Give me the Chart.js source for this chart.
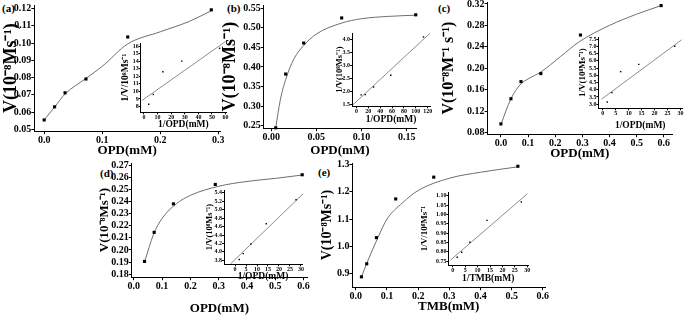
<!DOCTYPE html>
<html>
<head>
<meta charset="utf-8">
<script src="https://cdn.jsdelivr.net/npm/chart.js@4"></script>
<style>
  body { margin: 0; background: #fff; width: 685px; height: 322px; position: relative; overflow: hidden; }
  canvas { position: absolute; }
  .tag { position: absolute; font: bold 11px "Liberation Serif", serif; color: #000; }
</style>
</head>
<body>
<div class="tag" style="left:2px;top:2px">(a)</div>
<div class="tag" style="left:227px;top:2px">(b)</div>
<div class="tag" style="left:438px;top:2px">(c)</div>
<div class="tag" style="left:100px;top:167px">(d)</div>
<div class="tag" style="left:318px;top:166px">(e)</div>

<canvas id="a"></canvas><canvas id="aIn"></canvas>
<canvas id="b"></canvas><canvas id="bIn"></canvas>
<canvas id="c"></canvas><canvas id="cIn"></canvas>
<canvas id="d"></canvas><canvas id="dIn"></canvas>
<canvas id="e"></canvas><canvas id="eIn"></canvas>

<script>
// (a) OPD
const aConc = [0.0, 0.018, 0.036, 0.072, 0.144, 0.288];
const aRate = [0.0555, 0.0631, 0.0712, 0.0792, 0.1035, 0.1192];
const aFitX = [0, 0.018, 0.036, 0.072, 0.1, 0.144, 0.2, 0.25, 0.29];
const aFitY = [0.0555, 0.063, 0.0705, 0.0795, 0.0865, 0.0995, 0.1065, 0.1125, 0.119];
const aInvS = [3.5, 6.9, 13.9, 27.8, 55.6];
const aInvV = [8.3, 9.6, 12.6, 14.0, 15.7];
const aLineX = [-1.5, 60];
const aLineY = [8.8, 16.6];
const aXTicks = ['0.0', '0.1', '0.2', '0.3'];
const aYTicks = ['0.05', '0.06', '0.07', '0.08', '0.09', '0.10', '0.11', '0.12'];
const aInXTicks = ['0', '10', '20', '30', '40', '50', '60'];
const aInYTicks = ['8', '9', '10', '11', '12', '13', '14', '15', '16'];

// (b) OPD
const bConc = [0.005, 0.016, 0.036, 0.078, 0.16];
const bRate = [0.245, 0.382, 0.461, 0.525, 0.533];
const bFitX = [0.005, 0.01, 0.016, 0.025, 0.036, 0.05, 0.078, 0.1, 0.13, 0.16];
const bFitY = [0.245, 0.315, 0.368, 0.42, 0.455, 0.484, 0.512, 0.523, 0.529, 0.532];
const bInvS = [8, 15, 29, 58, 113];
const bInvV = [1.87, 1.88, 2.17, 2.62, 4.08];
const bLineX = [-5.5, 124];
const bLineY = [1.5, 4.22];
const bXTicks = ['0.00', '0.05', '0.10', '0.15'];
const bYTicks = ['0.25', '0.30', '0.35', '0.40', '0.45', '0.50', '0.55'];
const bInXTicks = ['0', '20', '40', '60', '80', '100', '120'];
const bInYTicks = ['1.5', '2.0', '2.5', '3.0', '3.5', '4.0'];

// (c) OPD
const cConc = [0.0, 0.037, 0.074, 0.147, 0.293, 0.59];
const cRate = [0.096, 0.143, 0.175, 0.19, 0.262, 0.317];
const cFitX = [0, 0.037, 0.072, 0.1, 0.147, 0.22, 0.29, 0.4, 0.5, 0.59];
const cFitY = [0.095, 0.143, 0.17, 0.18, 0.193, 0.222, 0.25, 0.28, 0.301, 0.317];
const cInvS = [1.7, 3.5, 6.9, 13.9, 27.8];
const cInvV = [3.15, 3.8, 5.25, 5.75, 7.0];
const cLineX = [-0.5, 30.5];
const cLineY = [3.35, 7.45];
const cXTicks = ['0.0', '0.1', '0.2', '0.3', '0.4', '0.5', '0.6'];
const cYTicks = ['0.08', '0.12', '0.16', '0.20', '0.24', '0.28', '0.32'];
const cInXTicks = ['0', '5', '10', '15', '20', '25', '30'];
const cInYTicks = ['3.0', '3.5', '4.0', '4.5', '5.0', '5.5', '6.0', '6.5', '7.0', '7.5'];

// (d) OPD
const dConc = [0.038, 0.072, 0.14, 0.288, 0.595];
const dRate = [0.1905, 0.2145, 0.238, 0.254, 0.262];
const dFitX = [0.038, 0.07, 0.1, 0.15, 0.2, 0.3, 0.4, 0.5, 0.595];
const dFitY = [0.19, 0.213, 0.226, 0.238, 0.245, 0.2525, 0.2565, 0.259, 0.2618];
const dInvS = [1.9, 3.7, 7.2, 14.2, 27.8];
const dInvV = [3.82, 3.96, 4.19, 4.67, 5.24];
const dLineX = [-2, 31];
const dLineY = [3.72, 5.38];
const dXTicks = ['0.0', '0.1', '0.2', '0.3', '0.4', '0.5', '0.6'];
const dYTicks = ['0.18', '0.19', '0.20', '0.21', '0.22', '0.23', '0.24', '0.25', '0.26', '0.27'];
const dInXTicks = ['0', '5', '10', '15', '20', '25', '30'];
const dInYTicks = ['3.8', '4.0', '4.2', '4.4', '4.6', '4.8', '5.0', '5.2', '5.4'];

// (e) TMB
const eConc = [0.018, 0.035, 0.066, 0.128, 0.25, 0.52];
const eRate = [0.888, 0.936, 1.032, 1.174, 1.254, 1.294];
const eFitX = [0.018, 0.036, 0.07, 0.1, 0.15, 0.2, 0.3, 0.4, 0.52];
const eFitY = [0.888, 0.94, 1.03, 1.1, 1.16, 1.205, 1.25, 1.272, 1.292];
const eInvS = [1.8, 3.6, 6.9, 13.8, 27.6];
const eInvV = [0.77, 0.797, 0.851, 0.968, 1.067];
const eLineX = [-1, 30];
const eLineY = [0.754, 1.11];
const eXTicks = ['0.0', '0.1', '0.2', '0.3', '0.4', '0.5', '0.6'];
const eYTicks = ['0.9', '1.0', '1.1', '1.2', '1.3'];
const eInXTicks = ['0', '5', '10', '15', '20', '25', '30'];
const eInYTicks = ['0.75', '0.80', '0.85', '0.90', '0.95', '1.00', '1.05', '1.10'];

const serif = '"Liberation Serif", "Times New Roman", serif';
const pts = (xs, ys) => xs.map((x, i) => ({ x, y: ys[i] }));

function axis(min, max, labels, tickSize, tickLen, title, titleSize, fit) {
  return {
    type: 'linear', min, max,
    afterBuildTicks: s => { s.ticks = labels.map(l => ({ value: parseFloat(l) })); },
    afterFit: s => { if (s.isHorizontal()) s.height = fit; else s.width = fit; },
    border: { color: '#000', width: 1 },
    grid: { drawOnChartArea: false, color: '#000', tickLength: tickLen, tickWidth: 1 },
    ticks: {
      autoSkip: false, maxRotation: 0, padding: 0, color: '#000',
      font: { family: serif, size: tickSize, weight: 'bold' },
      callback: (v, i) => labels[i]
    },
    title: {
      display: true, text: title, color: '#000', padding: 0,
      font: { family: serif, size: titleSize, weight: 'bold' }
    }
  };
}

// box: plot area in page px, title centres, font sizes
function draw(id, box, xr, yr, xt, yt, xTitle, yTitle, sets, inset) {
  const pt = 8, pr = inset ? 8 : 12;
  const left = box.ytx - 0.6 * box.ysz;
  const yw = box.L - left;
  const xh = box.xty + 0.6 * box.xsz - box.B;
  const cv = document.getElementById(id);
  cv.width = Math.round(yw + box.R - box.L + pr);
  cv.height = Math.round(pt + box.B - box.T + xh);
  cv.style.left = left + 'px';
  cv.style.top = (box.T - pt) + 'px';
  const ts = inset ? 6 : 10, tl = inset ? 2 : 3;
  new Chart(cv, {
    type: 'scatter',
    data: { datasets: sets },
    options: {
      responsive: false, animation: false,
      layout: { padding: { left: 0, top: pt, right: pr, bottom: 0 } },
      plugins: { legend: { display: false }, tooltip: { enabled: false } },
      scales: {
        x: axis(xr[0], xr[1], xt, ts, tl, xTitle, box.xsz, xh),
        y: axis(yr[0], yr[1], yt, ts, tl, yTitle, box.ysz, yw)
      }
    }
  });
}

function mainSets(cx, cy, fx, fy) {
  return [
    { data: pts(cx, cy), pointStyle: 'rect', pointRadius: 2.2, backgroundColor: '#000', borderColor: '#000', borderWidth: 0, showLine: false, clip: false },
    { data: pts(fx, fy), showLine: true, borderColor: '#6e6e6e', borderWidth: 1, pointRadius: 0, cubicInterpolationMode: 'monotone', clip: false }
  ];
}
function insetSets(sx, sy, lx, ly) {
  return [
    { data: pts(sx, sy), pointStyle: 'rect', pointRadius: 1, backgroundColor: '#000', borderColor: '#000', borderWidth: 0, showLine: false, clip: false },
    { data: pts(lx, ly), showLine: true, borderColor: '#6e6e6e', borderWidth: 0.8, pointRadius: 0, tension: 0, clip: false }
  ];
}

const vTitle = 'V(10\u207B\u2078Ms\u207B\u00B9)';
const opd = 'OPD(mM)', invOpd = '1/OPD(mM)';

draw('a', { L: 34, T: 5, R: 220, B: 131, ytx: 11.5, xty: 150, ysz: 18, xsz: 13 },
  [-0.017, 0.303], [0.049, 0.122], aXTicks, aYTicks, opd, vTitle, mainSets(aConc, aRate, aFitX, aFitY), false);
draw('aIn', { L: 141, T: 43, R: 226, B: 112, ytx: 126, xty: 124, ysz: 9.5, xsz: 9.5 },
  [-2.4, 60.3], [7.24, 16.4], aInXTicks, aInYTicks, invOpd, '1/V/10\u2078Ms\u207B\u00B9', insetSets(aInvS, aInvV, aLineX, aLineY), true);

draw('b', { L: 264, T: 5, R: 416, B: 128, ytx: 231, xty: 150, ysz: 18, xsz: 13 },
  [-0.0082, 0.1603], [0.244, 0.558], bXTicks, bYTicks, opd, vTitle, mainSets(bConc, bRate, bFitX, bFitY), false);
draw('bIn', { L: 352, T: 33, R: 430, B: 106, ytx: 340, xty: 119, ysz: 8.5, xsz: 9.5 },
  [-7.2, 124], [1.435, 4.23], bInXTicks, bInYTicks, invOpd, '1/V(10\u2078Ms\u207B\u00B9)', insetSets(bInvS, bInvV, bLineX, bLineY), true);

draw('c', { L: 488, T: 2, R: 672, B: 134, ytx: 449, xty: 153, ysz: 16, xsz: 13 },
  [-0.049, 0.63], [0.0768, 0.3237], cXTicks, cYTicks, opd, 'V(10\u207B\u2078M\u207B\u00B9 s\u207B\u00B9)', mainSets(cConc, cRate, cFitX, cFitY), false);
draw('cIn', { L: 598, T: 37, R: 682, B: 108, ytx: 582, xty: 125, ysz: 9, xsz: 9.5 },
  [-1.7, 30.6], [2.72, 7.64], cInXTicks, cInYTicks, invOpd, '1/V(10\u2078Ms\u207B\u00B9)', insetSets(cInvS, cInvV, cLineX, cLineY), true);

draw('d', { L: 132, T: 163, R: 307, B: 277, ytx: 105, xty: 308, ysz: 13, xsz: 13 },
  [-0.007, 0.612], [0.1775, 0.2717], dXTicks, dYTicks, opd, vTitle, mainSets(dConc, dRate, dFitX, dFitY), false);
draw('dIn', { L: 224, T: 190, R: 302, B: 264, ytx: 210, xty: 276, ysz: 8.5, xsz: 9.5 },
  [-5, 30.5], [3.707, 5.47], dInXTicks, dInYTicks, invOpd, '1/V(10\u2078Ms\u207B\u00B9)', insetSets(dInvS, dInvV, dLineX, dLineY), true);

draw('e', { L: 352, T: 163, R: 545, B: 287, ytx: 327, xty: 306, ysz: 14, xsz: 13 },
  [-0.011, 0.607], [0.85, 1.306], eXTicks, eYTicks, 'TMB(mM)', vTitle, mainSets(eConc, eRate, eFitX, eFitY), false);
draw('eIn', { L: 448, T: 192, R: 528, B: 265, ytx: 424, xty: 278, ysz: 9, xsz: 9.5 },
  [-1.76, 30.3], [0.727, 1.12], eInXTicks, eInYTicks, '1/TMB(mM)', '1/V/10\u2078Ms\u207B\u00B9', insetSets(eInvS, eInvV, eLineX, eLineY), true);
</script>
</body>
</html>
